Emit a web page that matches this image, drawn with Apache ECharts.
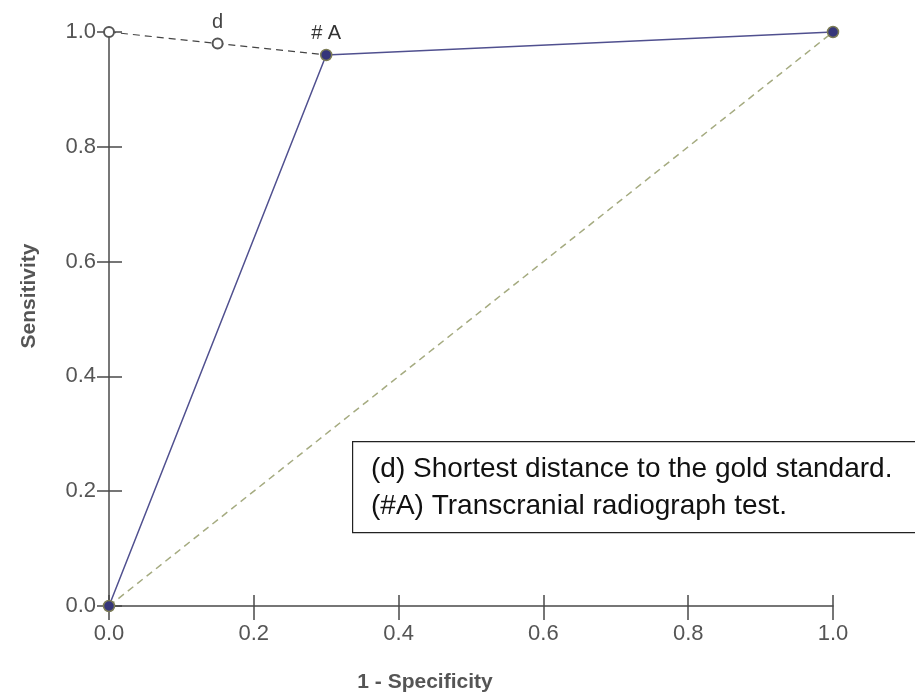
<!DOCTYPE html>
<html>
<head>
<meta charset="utf-8">
<script src="https://cdn.jsdelivr.net/npm/echarts@6/dist/echarts.min.js"></script>
<style>
  html, body { margin: 0; padding: 0; background: #fff; }
  #roc { width: 915px; height: 695px; }
</style>
</head>
<body>
<div id="roc"></div>
<script>
// ROC 曲线数据
var tickVals = [0, 0.2, 0.4, 0.6, 0.8, 1.0];
var rocPoints = [[0, 0], [0.3, 0.96], [1, 1]];
var chancePoints = [[0, 0], [1, 1]];
var distPoints = [[0, 1], [0.15, 0.98], [0.3, 0.96]];
var pointLabels = ['d', '# A'];
var axisNames = ['1 - Specificity', 'Sensitivity'];
var noteLines = ['(d) Shortest distance to the gold standard.', '(#A) Transcranial radiograph test.'];

var myChart = echarts.init(document.getElementById('roc'));

var axisColor = '#4a4a4a';
var labelStyle = {
    color: '#555',
    fontSize: 22,
    fontFamily: 'Liberation Sans',
    formatter: function (v) { return v.toFixed(1); }
};

function mainAxis(margin, tickLen) {
    return {
        type: 'value',
        min: tickVals[0],
        max: tickVals[tickVals.length - 1],
        interval: 0.2,
        splitLine: { show: false },
        axisLine: { show: true, onZero: false, lineStyle: { color: axisColor, width: 1.5 } },
        axisTick: { show: true, inside: false, length: tickLen, lineStyle: { color: axisColor, width: 1.5 } },
        axisLabel: Object.assign({}, labelStyle, { margin: margin })
    };
}
// 第二根轴只画向内的刻度，做成十字刻度
function innerAxis(pos, tickLen) {
    return {
        type: 'value',
        position: pos,
        min: tickVals[0],
        max: tickVals[tickVals.length - 1],
        interval: 0.2,
        splitLine: { show: false },
        axisLine: { show: false },
        axisTick: { show: true, inside: true, length: tickLen, lineStyle: { color: axisColor, width: 1.5 } },
        axisLabel: { show: false }
    };
}

var xMain = mainAxis(17, 14);
xMain.position = 'bottom';
var yMain = mainAxis(13, 12);
yMain.position = 'left';

myChart.setOption({
    animation: false,
    grid: { left: 109, right: 82, top: 32, bottom: 89 },
    xAxis: [xMain, innerAxis('bottom', 11)],
    yAxis: [yMain, innerAxis('left', 13)],
    graphic: [{
        type: 'text',
        x: 425,
        y: 682,
        style: {
            text: axisNames[0],
            fill: '#555',
            font: 'bold 21px "Liberation Sans"',
            align: 'center',
            verticalAlign: 'middle'
        }
    }, {
        type: 'text',
        x: 29,
        y: 296,
        rotation: Math.PI / 2,
        style: {
            text: axisNames[1],
            fill: '#555',
            font: 'bold 21px "Liberation Sans"',
            align: 'center',
            verticalAlign: 'middle'
        }
    }, {
        type: 'rect',
        left: 352,
        top: 441,
        shape: { width: 580, height: 91 },
        style: { fill: '#fff', stroke: '#222', lineWidth: 1.2 },
        z: 10
    }, {
        type: 'text',
        left: 371,
        top: 451,
        style: {
            text: noteLines.join('\n'),
            fill: '#111',
            font: '28px "Liberation Sans"',
            lineHeight: 37
        },
        z: 11
    }],
    series: [{
        name: 'chance',
        type: 'line',
        data: chancePoints,
        symbol: 'none',
        clip: false,
        lineStyle: { color: '#a5ab80', width: 1.5, type: [7, 5] },
        z: 1
    }, {
        name: 'distance',
        type: 'line',
        data: distPoints.map(function (p, i) {
            var item = { value: p };
            if (i === 2) item.symbol = 'none';
            if (i === 1) item.label = { show: true, formatter: pointLabels[0], position: 'top', distance: 5 };
            return item;
        }),
        symbol: 'emptyCircle',
        symbolSize: 10,
        clip: false,
        itemStyle: { color: '#555', borderWidth: 1 },
        lineStyle: { color: '#444', width: 1.2, type: [7, 5] },
        label: { color: '#444', fontSize: 20, fontFamily: 'Liberation Sans' },
        z: 2
    }, {
        name: 'roc',
        type: 'line',
        data: rocPoints.map(function (p, i) {
            var item = { value: p };
            if (i === 1) item.label = { show: true, formatter: pointLabels[1], position: 'top', distance: 5 };
            return item;
        }),
        symbol: 'circle',
        symbolSize: 11,
        clip: false,
        itemStyle: { color: '#36367a', borderColor: '#7c7c55', borderWidth: 1.5 },
        lineStyle: { color: '#50508f', width: 1.5 },
        label: { color: '#333', fontSize: 20, fontFamily: 'Liberation Sans' },
        z: 3
    }]
});
</script>
</body>
</html>
